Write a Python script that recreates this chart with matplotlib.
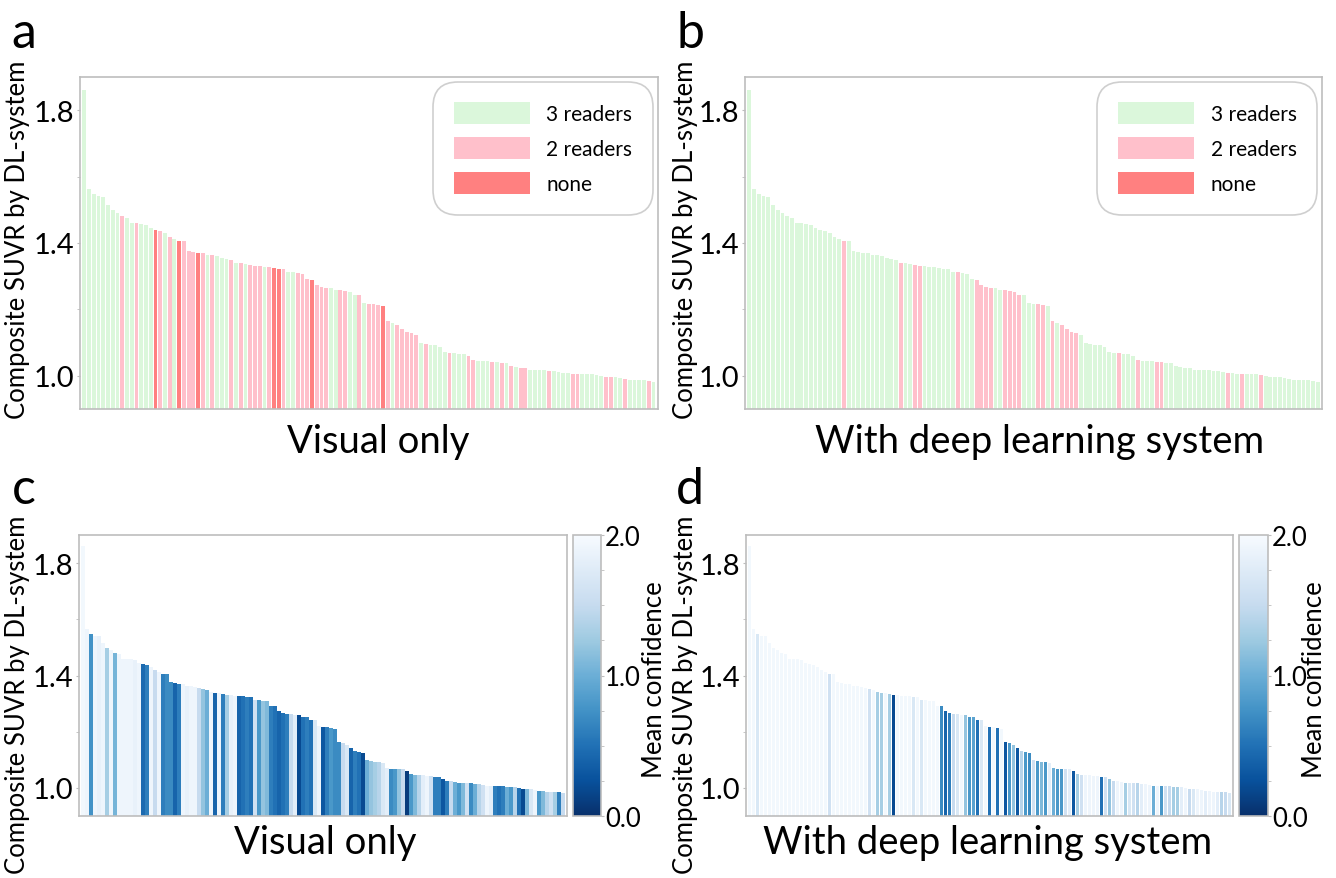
import matplotlib
matplotlib.use("Agg")
import matplotlib.pyplot as plt
import numpy as np
from matplotlib.patches import Patch
from matplotlib.colors import Normalize
from matplotlib.cm import ScalarMappable

plt.rcParams['font.family'] = ['Lato', 'DejaVu Sans']

# ---------------- data ----------------
suvr = [1.86, 1.564, 1.549, 1.541, 1.539, 1.514, 1.499, 1.49, 1.481, 1.475,
        1.46, 1.46, 1.457, 1.455, 1.446, 1.44, 1.437, 1.43, 1.418, 1.412,
        1.407, 1.407, 1.377, 1.374, 1.37, 1.37, 1.363, 1.363, 1.36, 1.355,
        1.352, 1.348, 1.34, 1.339, 1.337, 1.333, 1.331, 1.33, 1.328, 1.327,
        1.326, 1.323, 1.322, 1.314, 1.314, 1.309, 1.308, 1.291, 1.29, 1.272,
        1.268, 1.264, 1.263, 1.259, 1.258, 1.254, 1.251, 1.243, 1.242, 1.219,
        1.215, 1.215, 1.213, 1.209, 1.165, 1.159, 1.153, 1.141, 1.132, 1.128,
        1.124, 1.098, 1.095, 1.092, 1.092, 1.087, 1.072, 1.069, 1.069, 1.067,
        1.067, 1.061, 1.049, 1.046, 1.045, 1.045, 1.043, 1.043, 1.039, 1.039,
        1.03, 1.026, 1.024, 1.022, 1.018, 1.018, 1.017, 1.016, 1.015, 1.013,
        1.012, 1.008, 1.007, 1.006, 1.006, 1.005, 1.004, 1.004, 1.002, 0.998,
        0.997, 0.996, 0.995, 0.992, 0.99, 0.988, 0.987, 0.986, 0.986, 0.985,
        0.982]

# agreement with DL-system: 3 = 3 readers, 2 = 2 readers, 0 = none
agree_visual = [3, 3, 3, 3, 3, 3, 3, 3, 2, 3,
                3, 2, 3, 3, 3, 0, 2, 3, 2, 3,
                0, 2, 2, 2, 0, 2, 3, 2, 3, 3,
                3, 2, 3, 2, 3, 2, 2, 2, 3, 2,
                0, 0, 2, 3, 3, 2, 2, 2, 0, 2,
                2, 2, 3, 3, 2, 2, 3, 3, 2, 3,
                2, 2, 2, 0, 2, 3, 2, 2, 2, 2,
                2, 3, 2, 3, 3, 3, 3, 2, 3, 3,
                3, 2, 2, 3, 3, 3, 2, 3, 2, 3,
                2, 3, 2, 2, 3, 3, 3, 3, 2, 3,
                3, 3, 3, 2, 2, 3, 3, 3, 3, 3,
                2, 2, 3, 3, 2, 3, 3, 3, 3, 2,
                3]

pink_dl = [20, 32, 35, 36, 44, 48, 49, 50, 51, 54, 55, 56, 57, 61, 62, 64,
           66, 67, 68, 69, 78, 82, 86, 87, 101, 104, 108]
agree_dl = [2 if i in pink_dl else 3 for i in range(len(suvr))]

conf_visual = [1.95, 1.9, 0.75, 1.9, 1.85, 1.9, 1.3, 1.9, 1.05, 1.9,
               1.9, 1.9, 1.9, 1.85, 1.9, 0.45, 0.6, 1.9, 1.5, 1.9,
               0.6, 0.7, 0.7, 0.4, 0.6, 1.9, 1.85, 1.9, 1.9, 1.5,
               1.2, 1.0, 1.9, 0.4, 1.9, 0.6, 1.3, 1.85, 1.9, 0.4,
               0.5, 0.6, 0.5, 1.6, 0.8, 1.2, 1.1, 0.6, 0.5, 0.4,
               0.5, 0.6, 1.5, 1.8, 0.2, 0.5, 0.6, 0.5, 1.7, 1.9,
               0.3, 0.6, 0.8, 0.7, 0.7, 1.5, 1.7, 0.4, 0.6, 0.5,
               0.2, 1.0, 1.2, 1.3, 1.4, 1.7, 1.8, 0.7, 0.8, 1.2,
               1.5, 0.1, 0.8, 1.1, 1.4, 1.8, 1.9, 1.6, 0.6, 0.6,
               0.3, 0.6, 1.5, 1.0, 0.8, 1.1, 1.6, 0.7, 1.0, 1.4,
               1.6, 1.9, 1.8, 0.6, 0.5, 0.6, 1.0, 0.8, 1.4, 0.5,
               0.2, 1.1, 1.7, 1.9, 0.8, 1.1, 1.4, 1.6, 1.3, 0.6,
               1.5]

conf_dl = [1.95, 1.95, 1.7, 1.95, 1.95, 1.95, 1.95, 1.95, 1.95, 1.95,
           1.95, 1.95, 1.95, 1.95, 1.95, 1.95, 1.95, 1.95, 1.95, 1.95,
           1.6, 1.95, 1.95, 1.95, 1.95, 1.95, 1.95, 1.95, 1.95, 1.95,
           1.6, 1.95, 1.3, 1.3, 1.95, 1.3, 0.2, 1.95, 1.95, 1.95,
           1.95, 1.7, 1.95, 1.7, 1.95, 1.95, 1.95, 1.95, 0.7, 0.4,
           0.6, 1.5, 1.7, 1.95, 1.2, 0.8, 0.9, 0.5, 1.7, 1.95,
           0.5, 1.95, 0.5, 1.95, 0.3, 0.8, 1.2, 0.3, 1.4, 0.8,
           0.7, 1.6, 0.8, 1.1, 0.8, 1.8, 1.0, 0.8, 0.8, 1.6,
           1.8, 0.3, 1.3, 1.6, 1.9, 1.9, 1.9, 1.9, 0.5, 1.6,
           1.2, 1.5, 1.9, 1.9, 1.3, 1.7, 1.6, 1.4, 1.8, 1.9,
           1.9, 1.0, 1.9, 0.8, 1.6, 1.5, 1.3, 1.3, 1.8, 1.9,
           1.5, 1.7, 1.9, 1.9, 1.8, 1.9, 1.9, 1.8, 1.4, 1.5,
           1.7]

legend_labels = ["3 readers", "2 readers", "none"]
panel_letters = ["a", "b", "c", "d"]
xlabels = ["Visual only", "With deep learning system"]
ylabel = "Composite SUVR by DL-system"
cbar_label = "Mean confidence"

# ---------------- style ----------------
agree_colors = {3: "#dbf7db", 2: "#ffc0cb", 0: "#ff8080"}
spine_color = "#bdbdbd"
W, H = 1336, 879
fig = plt.figure(figsize=(W / 100, H / 100), dpi=100)


def fbox(l, t, r, b):
    return [l / W, 1 - b / H, (r - l) / W, (b - t) / H]


x = np.arange(len(suvr))


def style_axes(ax):
    ax.set_xlim(-0.9, len(suvr) - 0.1)
    ax.set_ylim(0.9, 1.9)
    ax.set_xticks([])
    ax.set_yticks([1.0, 1.4, 1.8])
    ax.set_yticklabels(["1.0", "1.4", "1.8"])
    ax.set_yticks([1.2, 1.6], minor=True)
    ax.tick_params(axis="y", which="major", labelsize=21, length=2,
                   color=spine_color, pad=2)
    ax.tick_params(axis="y", which="minor", length=2, color=spine_color)
    for s in ax.spines.values():
        s.set_color(spine_color)
        s.set_linewidth(1.2)


# top panels
top_boxes = [fbox(80, 78, 657.7, 410), fbox(745, 78, 1322, 410)]
for k, (box, agree) in enumerate(zip(top_boxes, [agree_visual, agree_dl])):
    ax = fig.add_axes(box)
    cols = [agree_colors[a] for a in agree]
    ax.bar(x, suvr, width=0.8, color=cols, bottom=0)
    style_axes(ax)
    handles = [Patch(facecolor=agree_colors[3]), Patch(facecolor=agree_colors[2]),
               Patch(facecolor=agree_colors[0])]
    leg = ax.legend(handles, legend_labels, loc="upper right", fontsize=15,
                    handlelength=3.65, handleheight=1.25, labelspacing=0.62,
                    handletextpad=0.8, borderpad=1.0, borderaxespad=0.22,
                    fancybox=True, framealpha=1, edgecolor="#cfcfcf")
    leg.get_frame().set_boxstyle("round", pad=0, rounding_size=1.2)
    leg.get_frame().set_linewidth(1.2)

# bottom panels
cmap = plt.get_cmap("Blues_r")
norm = Normalize(0, 2)
bot_boxes = [fbox(79.3, 536, 566.7, 817), fbox(746, 536, 1233, 817)]
cbar_boxes = [fbox(572.7, 536, 600.7, 817), fbox(1239, 536, 1268, 817)]
for k, (box, cbox, conf) in enumerate(zip(bot_boxes, cbar_boxes,
                                          [conf_visual, conf_dl])):
    ax = fig.add_axes(box)
    ax.bar(x, suvr, width=0.8, color=cmap(norm(np.array(conf))))
    style_axes(ax)
    cax = fig.add_axes(cbox)
    cb = fig.colorbar(ScalarMappable(norm=norm, cmap=cmap), cax=cax)
    cb.set_ticks([0.0, 1.0, 2.0])
    cb.set_ticklabels(["0.0", "1.0", "2.0"])
    cb.ax.set_yticks(np.arange(0, 2.01, 0.25), minor=True)
    cb.ax.tick_params(which="major", labelsize=18.5, length=2, color=spine_color, pad=1)
    cb.ax.tick_params(which="minor", length=2, color=spine_color)
    cb.outline.set_edgecolor(spine_color)
    cb.outline.set_linewidth(1.2)

# texts
for (xx, yy), letter in zip([(24, 34), (690, 34), (24, 490), (690, 490)],
                            panel_letters):
    fig.text(xx / W, 1 - yy / H, letter, fontsize=36, ha="center", va="center")

fig.text(378 / W, 1 - 442 / H, xlabels[0], fontsize=27.5, ha="center", va="center")
fig.text(1040 / W, 1 - 442 / H, xlabels[1], fontsize=27.5, ha="center", va="center")
fig.text(325 / W, 1 - 843 / H, xlabels[0], fontsize=27.5, ha="center", va="center")
fig.text(988 / W, 1 - 843 / H, xlabels[1], fontsize=27.5, ha="center", va="center")

for (xx, yy) in [(18, 240), (685, 240), (18, 695), (685, 695)]:
    fig.text(xx / W, 1 - yy / H, ylabel, fontsize=18.5, rotation=90,
             ha="center", va="center")

fig.text(655 / W, 1 - 680 / H, cbar_label, fontsize=18.5, rotation=90,
         ha="center", va="center")
fig.text(1314 / W, 1 - 680 / H, cbar_label, fontsize=18.5, rotation=90,
         ha="center", va="center")

fig.savefig("out.png", dpi=100)
